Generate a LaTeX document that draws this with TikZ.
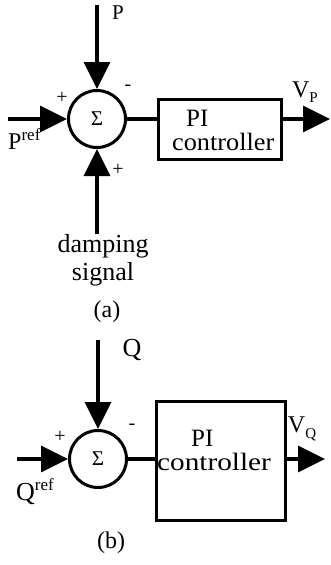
\documentclass[tikz,border=0pt]{standalone}
\usepackage{fontspec}
\setmainfont{Liberation Serif}
\usetikzlibrary{arrows.meta}
\newcommand\fs[1]{\fontsize{#1}{#1}\selectfont}
\tikzset{
  sig/.style={line width=3.5pt, -{Triangle[length=27pt,width=26pt]}},
  wire/.style={line width=3.5pt},
  sumnode/.style={circle, draw, line width=3pt, minimum size=57pt, inner sep=0pt, font=\fs{21}},
  block/.style={draw, line width=3pt, inner sep=0pt},
  lbl/.style={inner sep=0pt, font=\fs{26}},
  boxtext/.style={inner sep=0pt, font=\fs{25}, align=left, anchor=north west},
  sgn/.style={inner sep=0pt, font=\fs{20}},
}
\begin{document}
\begin{tikzpicture}[x=1pt,y=-1pt]
\useasboundingbox (0,0) rectangle (331,565);
% ---------- (a) ----------
\node[sumnode] (sa) at (97,119) {Σ};
\node[block, minimum width=123pt, minimum height=60pt] (ba) at (220,129.5) {};
\coordinate (pa) at (97,5);
\coordinate (pra) at (8,119);
\coordinate (da) at (97,234);
\coordinate (va) at (330,119);
\draw[sig] (pa) -- (sa);
\draw[sig] (pra) -- (sa);
\draw[sig] (da) -- (sa);
\draw[wire] (sa.east) -- (sa.east -| ba.west);
\draw[sig] (sa.east -| ba.east) -- (va);
\node[boxtext] (txa) at (172,110) {\hspace*{14pt}PI\\[-1pt]\scalebox{1.05}[1]{controller}};
\node[inner sep=0pt, font=\fs{21}] (plab) at (118,13) {P};
\node[sgn] (ma) at (128,88) {-};
\node[sgn] (pla) at (62,98) {+};
\node[sgn] (plb) at (118,170) {+};
\node[inner sep=0pt, anchor=base west, font=\fs{24}] (prefa) at (8,149) {P\raisebox{9pt}{\fs{17}ref}};
\node[lbl, anchor=base] (dampa) at (103,252) {damping};
\node[lbl, anchor=base] (siga) at (103,280) {signal};
\node[inner sep=0pt, anchor=base, font=\fs{24}] (capa) at (107,317) {(a)};
\node[inner sep=0pt, anchor=base, font=\fs{24}] (vpa) at (305,97) {V\raisebox{-5pt}{\fs{15}P}};
% ---------- (b) ----------
\node[sumnode] (sb) at (98,459) {Σ};
\node[block, minimum width=129pt, minimum height=119pt] (bb) at (221,461) {};
\coordinate (qb) at (98,340);
\coordinate (qrb) at (17,459);
\coordinate (vb) at (325,459);
\draw[sig] (qb) -- (sb);
\draw[sig] (qrb) -- (sb);
\draw[wire] (sb.east) -- (sb.east -| bb.west);
\draw[sig] (sb.east -| bb.east) -- (vb);
\node[boxtext] (txb) at (157,430) {\hspace*{34pt}PI\\[-1pt]\scalebox{1.17}[1]{controller}};
\node[lbl] (qlab) at (132,350) {Q};
\node[sgn] (mb) at (132,427) {-};
\node[sgn] (plc) at (60,437) {+};
\node[inner sep=0pt, anchor=base west, font=\fs{26}] (qrefb) at (16,500) {Q\raisebox{10pt}{\fs{17}ref}};
\node[inner sep=0pt, anchor=base, font=\fs{24}] (vqb) at (302,432) {V\raisebox{-6pt}{\fs{15}Q}};
\node[inner sep=0pt, anchor=base, font=\fs{24}] (capb) at (111,548) {(b)};
\end{tikzpicture}
\end{document}
